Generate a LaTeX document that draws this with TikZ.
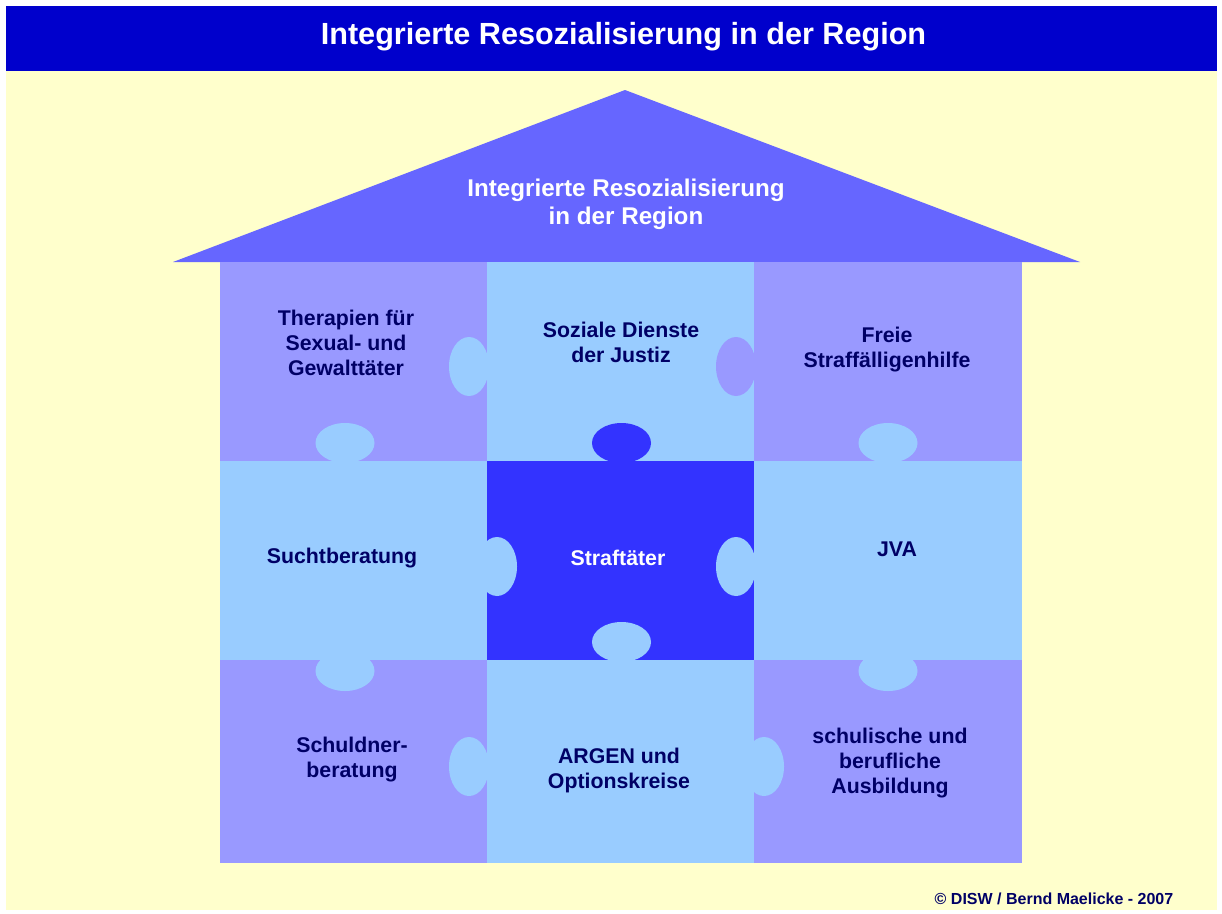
\documentclass[tikz,border=0pt]{standalone}
\usepackage{fontspec}
\setmainfont{Liberation Sans}
\usetikzlibrary{shapes.geometric}
\definecolor{hdr}{HTML}{0000CC}
\definecolor{bgyel}{HTML}{FFFFCC}
\definecolor{roofc}{HTML}{6666FF}
\definecolor{lila}{HTML}{9999FF}
\definecolor{hell}{HTML}{99CCFF}
\definecolor{kern}{HTML}{3333FF}
\definecolor{navy}{HTML}{000066}
\begin{document}
\begin{tikzpicture}[x=1pt,y=-1pt,
 cell/.style={rectangle,inner sep=0pt,draw=none,minimum width=267pt},
 htab/.style={ellipse,inner sep=0pt,draw=none,minimum width=40pt,minimum height=59pt},
 vtab/.style={ellipse,inner sep=0pt,draw=none,minimum width=59pt,minimum height=40pt},
 lbl/.style={font=\bfseries\fontsize{21.3}{25}\selectfont,text=navy,align=center,inner sep=0pt},
 ]
\useasboundingbox (0,0) rectangle (1222,913);
\fill[white] (0,0) rectangle (1222,913);
% background and header
\fill[bgyel] (6,71) rectangle (1217,910);
\node[rectangle,fill=hdr,inner sep=0pt,minimum width=1211pt,minimum height=65pt] (header) at (611.5,38.5) {};
\node[text=white,font=\bfseries\fontsize{30.6}{34}\selectfont,inner sep=0pt] (title) at (623.5,36.5) {Integrierte Resozialisierung in der Region};
% roof
\fill[roofc] (625,90) -- (1080,262) -- (173,262) -- cycle;
\node[text=white,font=\bfseries\fontsize{24.2}{28}\selectfont,align=center,inner sep=0pt] (rooftext) at (626,204) {Integrierte Resozialisierung\\in der Region};
% cells
\node[cell,fill=lila,minimum height=199pt] (c11) at (353.5,361.5) {};
\node[cell,fill=hell,minimum height=199pt] (c12) at (620.5,361.5) {};
\node[cell,fill=lila,minimum height=199pt,minimum width=268pt] (c13) at (888,361.5) {};
\node[cell,fill=hell,minimum height=199pt] (c21) at (353.5,560.5) {};
\node[cell,fill=kern,minimum height=199pt] (c22) at (620.5,560.5) {};
\node[cell,fill=hell,minimum height=199pt,minimum width=268pt] (c23) at (888,560.5) {};
\node[cell,fill=lila,minimum height=203pt] (c31) at (353.5,761.5) {};
\node[cell,fill=hell,minimum height=203pt] (c32) at (620.5,761.5) {};
\node[cell,fill=lila,minimum height=203pt,minimum width=268pt] (c33) at (888,761.5) {};
% horizontal tabs
\node[htab,fill=hell] (h1) at (469,366.5) {};
\node[htab,fill=lila] (h2) at (736,366.5) {};
\node[htab,fill=hell] (h3) at (497,566.5) {};
\node[htab,fill=hell] (h4) at (736,566.5) {};
\node[htab,fill=hell] (h5) at (469,766.5) {};
\node[htab,fill=hell] (h6) at (764,766.5) {};
% vertical tabs
\node[vtab,fill=hell] (v1) at (345,443) {};
\node[vtab,fill=kern] (v2) at (621.5,443) {};
\node[vtab,fill=hell] (v3) at (888,443) {};
\node[vtab,fill=hell] (v4) at (345,671) {};
\node[vtab,fill=hell] (v5) at (621.5,642) {};
\node[vtab,fill=hell] (v6) at (888,671) {};
% labels
\node[lbl] (l11) at (346,343) {Therapien für\\Sexual- und\\Gewalttäter};
\node[lbl] (l12) at (621,342) {Soziale Dienste\\der Justiz};
\node[lbl] (l13) at (887,350) {Freie\\Straffälligenhilfe};
\node[lbl] (l21) at (342,558) {Suchtberatung};
\node[lbl,text=white] (l22) at (618,558) {Straftäter};
\node[lbl] (l23) at (897,549) {JVA};
\node[lbl] (l31) at (352,760) {Schuldner-\\beratung};
\node[lbl] (l32) at (619,770) {ARGEN und\\Optionskreise};
\node[lbl] (l33) at (890,763) {schulische und\\berufliche\\Ausbildung};
% footer
\node[text=navy,font=\bfseries\fontsize{16}{18}\selectfont,inner sep=0pt] (foot) at (1054,898.5) {© DISW / Bernd Maelicke - 2007};
\end{tikzpicture}
\end{document}
